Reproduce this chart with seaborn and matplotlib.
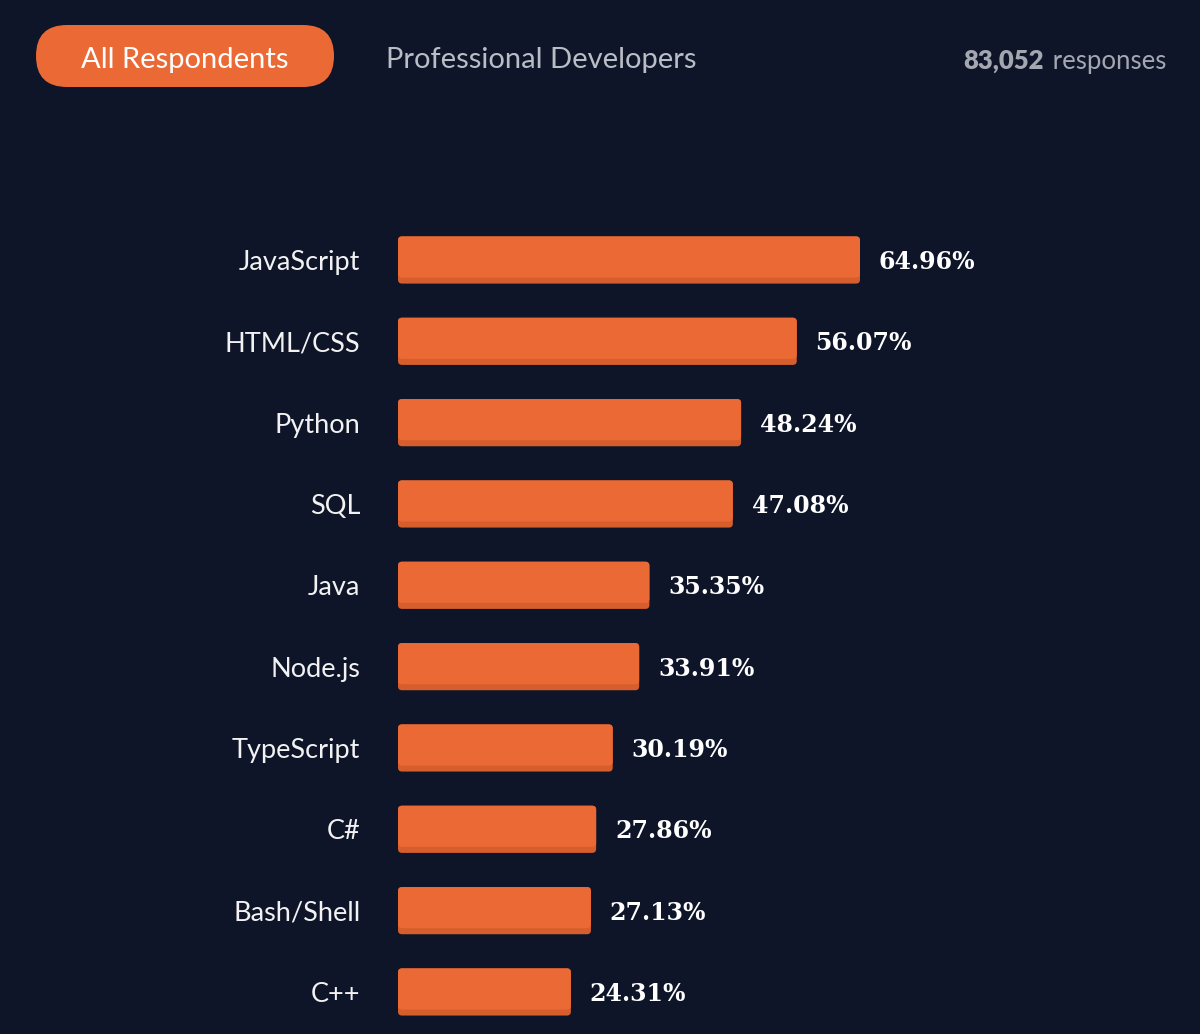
import matplotlib
matplotlib.use("Agg")
import matplotlib.pyplot as plt
import seaborn as sns
import pandas as pd
from matplotlib.patches import FancyBboxPatch

# data
languages = ["JavaScript", "HTML/CSS", "Python", "SQL", "Java",
             "Node.js", "TypeScript", "C#", "Bash/Shell", "C++"]
pct = [64.96, 56.07, 48.24, 47.08, 35.35, 33.91, 30.19, 27.86, 27.13, 24.31]
tabs = ["All Respondents", "Professional Developers"]
n_responses = "83,052"

BG = "#0f1529"
ORANGE = "#ea6935"
DARK = "#d65e2d"

sns.set_theme(style="white")
plt.rcParams["font.family"] = ["Lato", "DejaVu Sans"]

W, H = 1200, 1034
fig = plt.figure(figsize=(W / 100, H / 100), dpi=100)
fig.patch.set_facecolor(BG)

# header in pixel coords
hd = fig.add_axes([0, 1 - 120 / H, 1, 120 / H])
hd.set_xlim(0, W)
hd.set_ylim(120, 0)
hd.axis("off")
hd.add_patch(FancyBboxPatch((36, 25), 298, 62, boxstyle="round,pad=0,rounding_size=31",
                            fc=ORANGE, ec="none"))
hd.text(185, 60, tabs[0], color="white", fontsize=21, ha="center", va="center")
hd.text(386, 60, tabs[1], color="#b9bdc6", fontsize=21, ha="left", va="center")
hd.text(1166, 61, " responses", color="#a3a7b0", fontsize=18.5, ha="right", va="center")
hd.text(1044, 61, n_responses, color="#a3a7b0", fontsize=18.5, fontweight="heavy",
        ha="right", va="center")

# bar chart
px_per_pct = 462 / 64.96
left = 398
ax = fig.add_axes([left / W, 0, 1 - left / W, 1 - 200 / H])
ax.set_facecolor(BG)
df = pd.DataFrame({"lang": languages, "pct": pct})
sns.barplot(data=df, x="pct", y="lang", orient="h", color=ORANGE, width=0.58,
            saturation=1, ax=ax)
ax.set_xlim(0, (W - left) / px_per_pct)
step = 81.33
ax.set_ylim((H - 260) / step, -60 / step)

aspect = px_per_pct / step
for p in list(ax.patches):
    x0, y0, w, h = p.get_x(), p.get_y(), p.get_width(), p.get_height()
    p.remove()
    r = 4 / px_per_pct
    ax.add_patch(FancyBboxPatch((x0, y0), w, h, boxstyle=f"round,pad=0,rounding_size={r}",
                                mutation_aspect=aspect, fc=DARK, ec="none"))
    ax.add_patch(FancyBboxPatch((x0, y0), w, h - 6 / step,
                                boxstyle=f"round,pad=0,rounding_size={r}",
                                mutation_aspect=aspect, fc=ORANGE, ec="none"))

for i, v in enumerate(pct):
    ax.annotate(f"{v:.2f}%", (v, i), xytext=(13.5, -1.5), textcoords="offset points",
                color="white", fontsize=17, fontweight="bold", va="center", ha="left",
                family=["DejaVu Serif Condensed", "DejaVu Serif"])

ax.set_xlabel("")
ax.set_ylabel("")
ax.set_xticks([])
ax.tick_params(axis="y", length=0, pad=27, labelsize=19.5, labelcolor="#f2f2f2")
for s in ax.spines.values():
    s.set_visible(False)

fig.savefig("out.png", dpi=100, facecolor=BG)
